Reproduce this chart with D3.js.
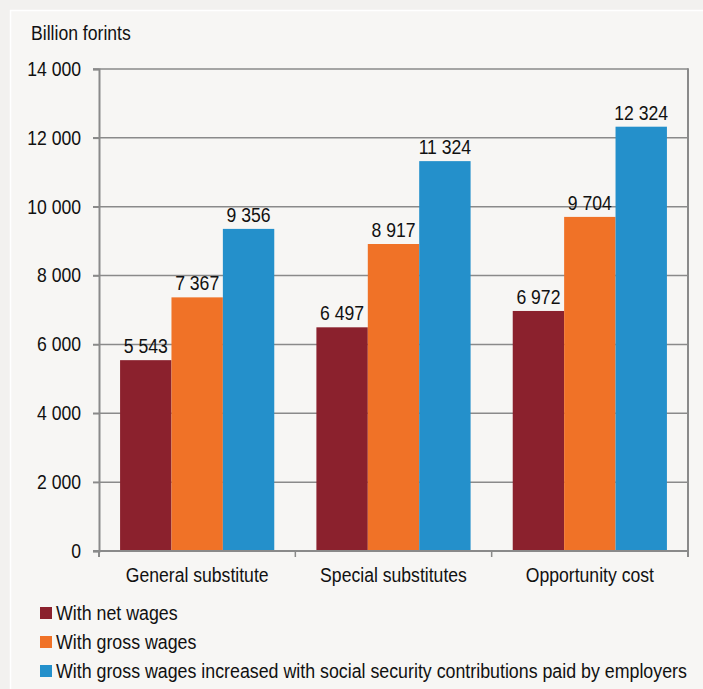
<!DOCTYPE html>
<html>
<head>
<meta charset="utf-8">
<script src="https://cdn.jsdelivr.net/npm/d3@7"></script>
<style>
  body { margin: 0; background: #f2f1ef; }
  svg { display: block; font-family: "Liberation Sans", Arial, sans-serif; }
</style>
</head>
<body>
<div id="chart"></div>
<script>
const categories = ["General substitute", "Special substitutes", "Opportunity cost"];
const seriesNames = [
    "With net wages",
    "With gross wages",
    "With gross wages increased with social security contributions paid by employers"
];
const netWages = [5543, 6497, 6972];
const grossWages = [7367, 8917, 9704];
const grossPlusContrib = [9356, 11324, 12324];
const yTicks = [0, 2000, 4000, 6000, 8000, 10000, 12000, 14000];
const colors = ["#8b212d", "#f07227", "#2490cb"];

const width = 703, height = 689;
const margin = { top: 69, right: 15, bottom: 138, left: 99 };
const fs = 20;
const squeeze = 0.88; // the original uses a condensed face
const fmt = v => d3.format(",")(v).replace(/,/g, " ");

const svg = d3.select("#chart").append("svg")
    .attr("width", width)
    .attr("height", height);

// panel
svg.append("rect").attr("x", 0).attr("y", 0).attr("width", width).attr("height", height).attr("fill", "#f2f1ef");
svg.append("rect").attr("x", 10.5).attr("y", 10.5).attr("width", width).attr("height", height)
    .attr("fill", "#f7f6f4").attr("stroke", "#ffffff").attr("stroke-width", 1.5);

const x = d3.scaleBand()
    .domain(categories)
    .range([margin.left, width - margin.right])
    .padding(0);

const y = d3.scaleLinear()
    .domain([0, 14000])
    .range([height - margin.bottom, margin.top]);

const xs = d3.scaleBand()
    .domain(d3.range(3))
    .range([0, x.bandwidth()])
    .paddingOuter(0.41)
    .paddingInner(0);

// gridlines
svg.append("g")
    .selectAll("line")
    .data(yTicks.slice(1))
    .join("line")
    .attr("x1", margin.left - 6)
    .attr("x2", width - margin.right)
    .attr("y1", d => y(d))
    .attr("y2", d => y(d))
    .attr("stroke", "#8a8a8a")
    .attr("stroke-width", 1.5);

// right border
svg.append("line")
    .attr("x1", width - margin.right).attr("x2", width - margin.right)
    .attr("y1", y(14000) - 0.75).attr("y2", y(0) + 6)
    .attr("stroke", "#8a8a8a").attr("stroke-width", 2);

// y axis
const yAxis = svg.append("g")
    .attr("transform", `translate(${margin.left}, 0)`)
    .call(d3.axisLeft(y).tickValues(yTicks).tickFormat(fmt).tickSize(6).tickPadding(12));
yAxis.select(".domain").attr("stroke", "#8a8a8a").attr("stroke-width", 2);
yAxis.selectAll(".tick line").attr("stroke", "#8a8a8a").attr("stroke-width", 1.5);
yAxis.selectAll("text").attr("font-size", fs).attr("fill", "#111").attr("font-family", null);

// bars
const series = [netWages, grossWages, grossPlusContrib];
const groups = svg.append("g")
    .selectAll("g")
    .data(categories)
    .join("g")
    .attr("transform", d => `translate(${x(d)}, 0)`);

groups.selectAll("rect")
    .data((c, i) => series.map((s, j) => ({ j, v: s[i] })))
    .join("rect")
    .attr("x", d => xs(d.j))
    .attr("y", d => y(d.v))
    .attr("width", xs.bandwidth())
    .attr("height", d => y(0) - y(d.v))
    .attr("fill", d => colors[d.j]);

groups.selectAll("text")
    .data((c, i) => series.map((s, j) => ({ j, v: s[i] })))
    .join("text")
    .attr("x", d => xs(d.j) + xs.bandwidth() / 2)
    .attr("y", d => y(d.v) - 7)
    .attr("text-anchor", "middle")
    .attr("font-size", fs)
    .attr("fill", "#111")
    .text(d => fmt(d.v));

// x axis
const xAxis = svg.append("g")
    .attr("transform", `translate(0, ${y(0)})`)
    .call(d3.axisBottom(x).tickSize(0).tickPadding(17));
xAxis.select(".domain").remove();
xAxis.selectAll("text").attr("font-size", fs).attr("fill", "#111").attr("font-family", null);

svg.append("line")
    .attr("x1", margin.left - 6).attr("x2", width - margin.right)
    .attr("y1", y(0)).attr("y2", y(0))
    .attr("stroke", "#8a8a8a").attr("stroke-width", 2);

// category separators
svg.append("g")
    .selectAll("line")
    .data(categories.slice(1).concat([null]))
    .join("line")
    .attr("x1", d => d ? x(d) : width - margin.right)
    .attr("x2", d => d ? x(d) : width - margin.right)
    .attr("y1", y(0))
    .attr("y2", y(0) + 6)
    .attr("stroke", "#8a8a8a")
    .attr("stroke-width", 1.5);
svg.append("line")
    .attr("x1", margin.left).attr("x2", margin.left)
    .attr("y1", y(0)).attr("y2", y(0) + 6)
    .attr("stroke", "#8a8a8a").attr("stroke-width", 2);

// unit label
svg.append("text")
    .attr("x", 31).attr("y", 40)
    .attr("font-size", fs).attr("fill", "#111")
    .text("Billion forints");

// condense the chart text horizontally
svg.selectAll("text").each(function () {
    const len = this.getComputedTextLength();
    d3.select(this)
        .attr("textLength", len * squeeze)
        .attr("lengthAdjust", "spacingAndGlyphs");
});

// legend (condensed with a transform so its box stays inside the page)
const legend = svg.append("g")
    .selectAll("g")
    .data(seriesNames)
    .join("g")
    .attr("transform", (d, i) => `translate(40, ${607 + i * 29})`);
legend.append("rect")
    .attr("width", 12).attr("height", 12)
    .attr("fill", (d, i) => colors[i]);
legend.append("text")
    .attr("transform", `translate(16, 13) scale(${squeeze + 0.01}, 1)`)
    .attr("font-size", fs).attr("fill", "#111")
    .text(d => d);
</script>
</body>
</html>
